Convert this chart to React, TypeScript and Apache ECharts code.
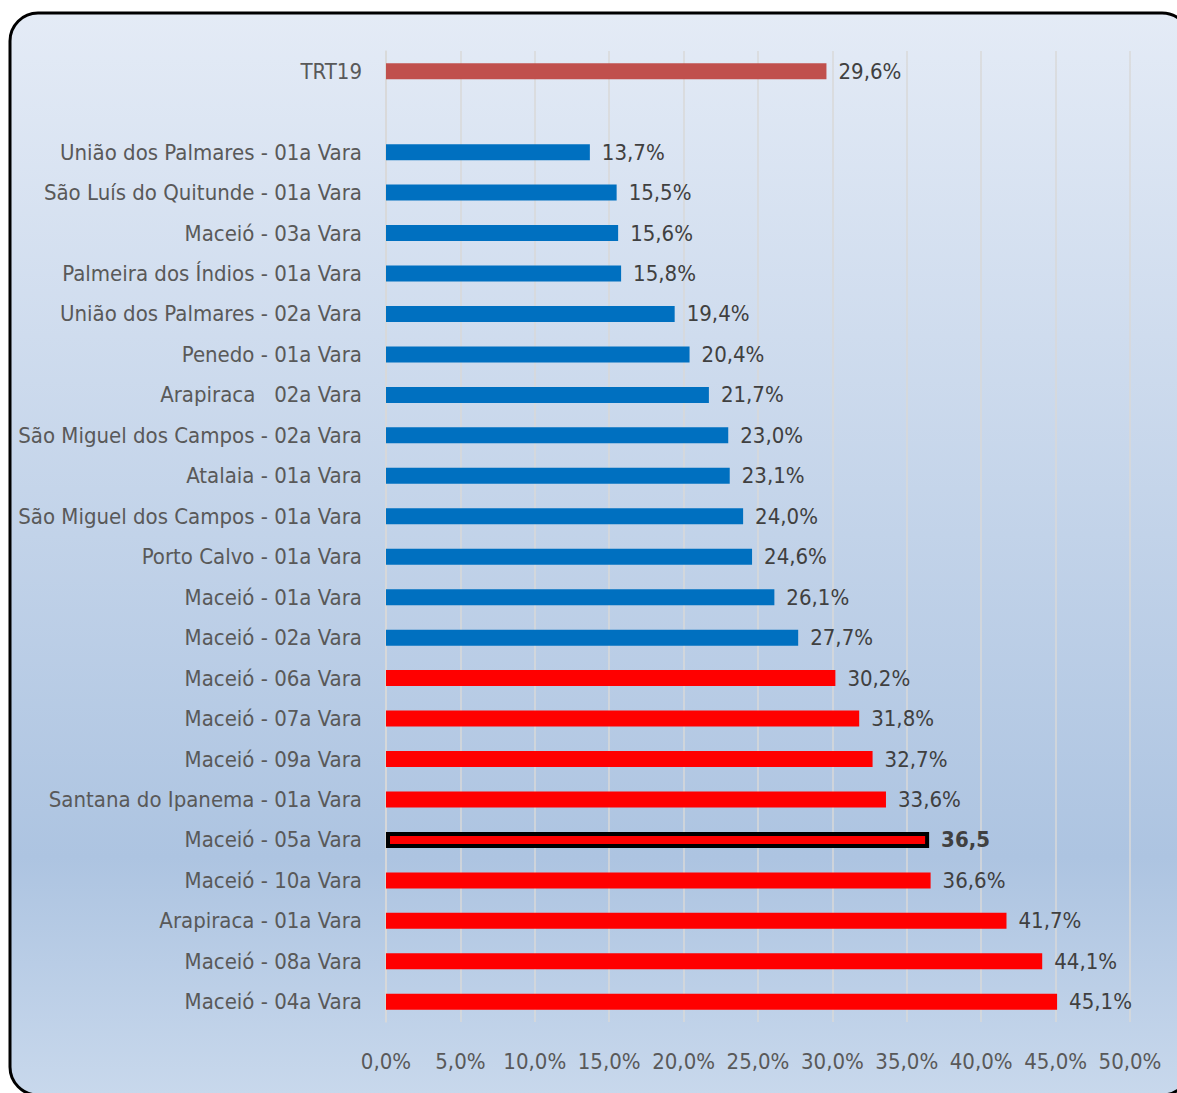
import React, { useEffect, useRef } from "react";
import * as echarts from "echarts";

const categories = [
  "TRT19",
  "",
  "União dos Palmares - 01a Vara",
  "São Luís do Quitunde - 01a Vara",
  "Maceió - 03a Vara",
  "Palmeira dos Índios - 01a Vara",
  "União dos Palmares - 02a Vara",
  "Penedo - 01a Vara",
  "Arapiraca   02a Vara",
  "São Miguel dos Campos - 02a Vara",
  "Atalaia - 01a Vara",
  "São Miguel dos Campos - 01a Vara",
  "Porto Calvo - 01a Vara",
  "Maceió - 01a Vara",
  "Maceió - 02a Vara",
  "Maceió - 06a Vara",
  "Maceió - 07a Vara",
  "Maceió - 09a Vara",
  "Santana do Ipanema - 01a Vara",
  "Maceió - 05a Vara",
  "Maceió - 10a Vara",
  "Arapiraca - 01a Vara",
  "Maceió - 08a Vara",
  "Maceió - 04a Vara",
];

const values: (number | null)[] = [
  29.6, null, 13.7, 15.5, 15.6, 15.8, 19.4, 20.4, 21.7, 23.0, 23.1, 24.0, 24.6,
  26.1, 27.7, 30.2, 31.8, 32.7, 33.6, 36.5, 36.6, 41.7, 44.1, 45.1,
];

// group of each bar: "ref" (TRT19), "below", "above", "highlight"
const groups = [
  "ref", "none", "below", "below", "below", "below", "below", "below", "below",
  "below", "below", "below", "below", "below", "below", "above", "above",
  "above", "above", "highlight", "above", "above", "above", "above",
];

const xTicks = { min: 0, max: 50, interval: 5 };

const FONT = "'Liberation Sans Narrow', 'DejaVu Sans Condensed', 'Arial Narrow', sans-serif";
const FS = 22;

export default function App() {
  const ref = useRef<HTMLDivElement>(null);
  useEffect(() => {
    document.body.style.margin = "0";
    const chart = echarts.init(ref.current!, null, { renderer: "svg" });
    const colorFor: Record<string, string> = {
      ref: "#c0504d",
      below: "#0070c0",
      above: "#ff0000",
      highlight: "#ff0000",
      none: "#ff0000",
    };
    const fmt = (v: number) => v.toFixed(1).replace(".", ",") + "%";
    const data = values.map((v, i) => {
      const g = groups[i];
      if (v === null) return { value: null };
      const item: any = {
        value: v,
        itemStyle: { color: colorFor[g] },
        label: {
          show: true,
          position: "right",
          distance: 12,
          color: "#404040",
          fontSize: FS,
          fontFamily: FONT,
          formatter: () => fmt(v),
        },
      };
      if (g === "highlight") {
        item.itemStyle = { color: "#ff0000", borderColor: "#000000", borderWidth: 4 };
        item.label.fontWeight = "bold";
        item.label.formatter = () => v.toFixed(1).replace(".", ",");
        item.label.distance = 12;
      }
      return item;
    });
    chart.setOption({
      animation: false,
      graphic: [
        {
          type: "rect",
          z: -10,
          shape: { x: 10, y: 13, width: 1180, height: 1082, r: 28 },
          style: {
            fill: new echarts.graphic.LinearGradient(0, 0, 0, 1, [
              { offset: 0, color: "#e4ebf6" },
              { offset: 0.78, color: "#adc4e1" },
              { offset: 1, color: "#c8d8ec" },
            ]),
            stroke: "#000000",
            lineWidth: 3,
          },
        },
      ],
      grid: {
        left: 386,
        right: 47,
        top: 51,
        bottom: 71,
        containLabel: false,
        outerBoundsMode: "none",
      },
      xAxis: {
        type: "value",
        min: xTicks.min,
        max: xTicks.max,
        interval: xTicks.interval,
        axisLine: { show: false },
        axisTick: { show: false },
        splitLine: { show: true, lineStyle: { color: "#d9d9d9", width: 1.5 } },
        axisLabel: {
          formatter: (v: number) => fmt(v),
          color: "#595959",
          fontSize: FS,
          fontFamily: FONT,
          margin: 28,
          hideOverlap: false,
          showMaxLabel: true,
          showMinLabel: true,
        },
      },
      yAxis: {
        type: "category",
        data: categories,
        inverse: true,
        axisLine: { show: true, lineStyle: { color: "#d9d9d9", width: 1.5 } },
        axisTick: { show: false },
        axisLabel: {
          color: "#595959",
          fontSize: FS,
          fontFamily: FONT,
          margin: 24,
          interval: 0,
        },
      },
      series: [
        {
          type: "bar",
          data,
          barWidth: 16,
        },
      ],
    });
    return () => chart.dispose();
  }, []);
  return <div ref={ref} style={{ width: 1177, height: 1093, background: "#ffffff" }} />;
}
